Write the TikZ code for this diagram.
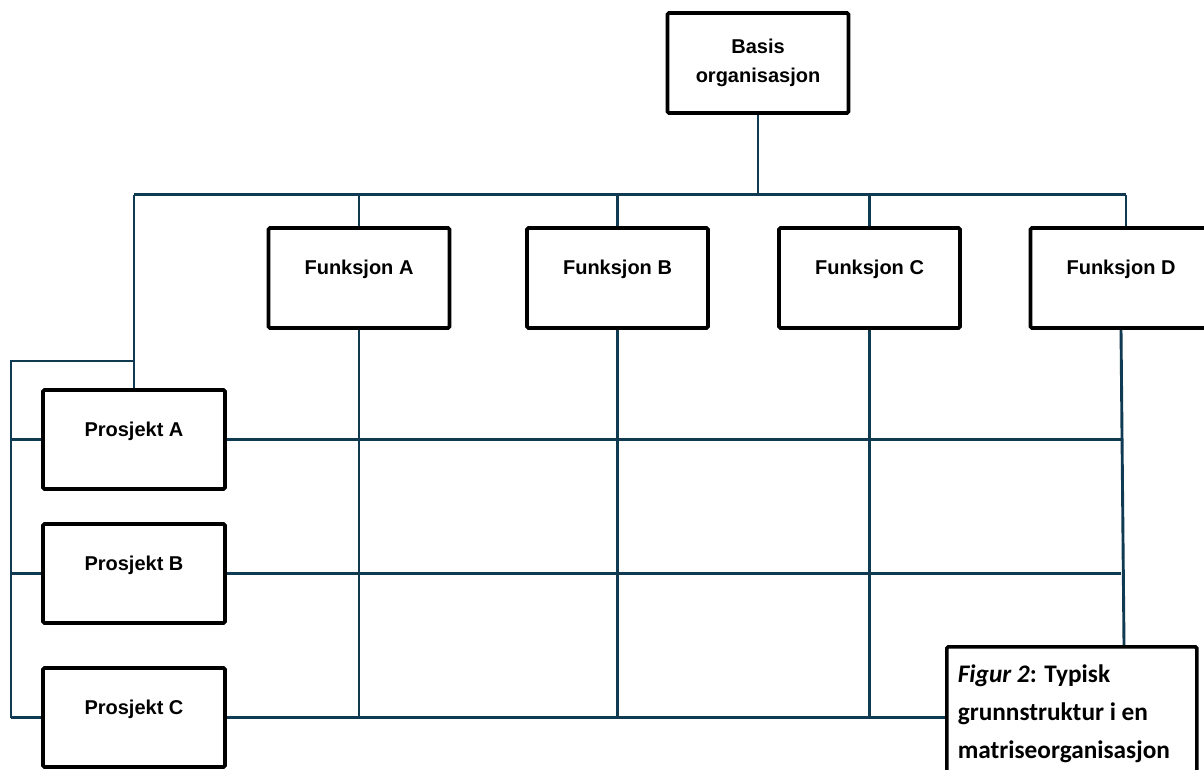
\documentclass[tikz,border=0pt]{standalone}
\usepackage{fontspec}
\setmainfont{Liberation Sans}
\newfontfamily\capfont{Carlito}
\usetikzlibrary{backgrounds}

\definecolor{wirecol}{RGB}{16,58,82}

\begin{document}
\begin{tikzpicture}[
        x=1pt,
        y=-1pt,
        wire/.style={draw=wirecol, line width=2.9pt},
        unit/.style={draw, fill=white, line width=3.6pt, rounded corners=1.5pt,
            minimum width=181pt, minimum height=100pt,
            font=\bfseries\fontsize{20}{24}\selectfont,
            text height=15pt, text depth=22pt},
        capbox/.style={draw, fill=white, line width=3.6pt, rounded corners=1.5pt,
            inner xsep=11pt, inner ysep=18pt}
    ]
        \useasboundingbox (0,0) rectangle (1204,770);
        % top of the hierarchy
        \node[unit, align=center, text height=, text depth=,
            font=\bfseries\fontsize{20}{29}\selectfont] (basis) at (758,63) {Basis\\organisasjon};
        % functions
        \foreach \n/\x/\lab in {fa/359/A,fb/617.5/B,fc/869.5/C,fd/1121/D}{
            \node[unit] (\n) at (\x,278) {Funksjon \lab};
        }
        % projects
        \foreach \n/\y/\lab in {pa/439.5/A,pb/573.5/B,pc/717.5/C}{
            \node[unit, minimum width=182pt, minimum height=99pt] (\n) at (134,\y) {Prosjekt \lab};
        }
        \node[capbox, anchor=north west] (cap) at (945,645)
            {\parbox[c][140pt][t]{228pt}{\capfont\bfseries\fontsize{25.3}{38}\selectfont
            \textit{Figur 2}: Typisk\\grunnstruktur i en\\matriseorganisasjon}};

        \begin{scope}[on background layer]
            \draw[wire] (basis.south) -- ++(0,80) coordinate (hub);
            \draw[wire] (pa.north |- hub) -- ([xshift=5pt]fd.north |- hub);
            \foreach \n in {fa,fb,fc,pa}{
                \draw[wire] (\n.north) -- (\n.north |- hub);
            }
            \draw[wire] ([xshift=5pt]fd.north) -- ([xshift=5pt]fd.north |- hub);
            % left spine
            \coordinate (spine) at (11,361);
            \draw[wire] (pa.north |- spine) -- (spine) -- (spine |- pc.west);
            \foreach \n in {pa,pb,pc}{
                \draw[wire] (\n.west) -- (spine |- \n.west);
            }
            % matrix grid
            \draw[wire] (pa.east) -- (fd.south |- pa.east);
            \draw[wire] (pb.east) -- (fd.south |- pb.east);
            \draw[wire] (pc.east) -- (cap.west |- pc.east);
            \foreach \n in {fa,fb,fc}{
                \draw[wire] (\n.south) -- (\n.south |- pc.east);
            }
            \draw[wire] (fd.south) -- ([xshift=3pt]fd.south |- cap.north);
        \end{scope}
    \end{tikzpicture}
\end{document}
